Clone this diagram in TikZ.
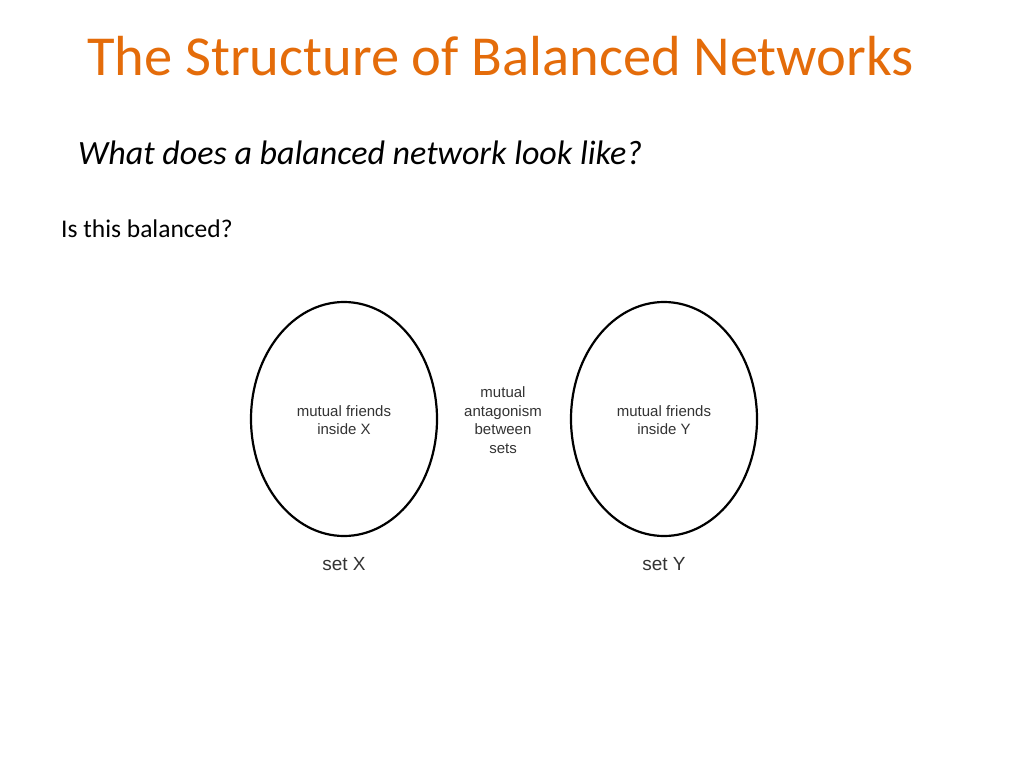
\documentclass[tikz,border=0pt]{standalone}
\usepackage{fontspec}
\usetikzlibrary{shapes.geometric}
\setmainfont{Carlito}
\newfontfamily\arialf{Liberation Sans}
\definecolor{titleor}{RGB}{228,108,10}
\begin{document}
\begin{tikzpicture}[x=1pt,y=-1pt,
  set/.style={draw=black,line width=2.2pt,ellipse,minimum width=186pt,minimum height=234pt,inner sep=0pt},
  lab/.style={font=\arialf\fontsize{15}{18.5}\selectfont,text=black!80,align=center},
  setlab/.style={font=\arialf\fontsize{19}{22}\selectfont,text=black!80}]
\useasboundingbox (0,0) rectangle (1024,768);
\fill[white] (0,0) rectangle (1024,768);
\node[anchor=west,text=titleor,font=\fontsize{56.5}{60}\selectfont,inner sep=0pt] (title) at (87,56) {The Structure of Balanced Networks};
\node[anchor=west,font=\itshape\fontsize{34}{38}\selectfont,inner sep=0pt] (sub) at (78,153) {What does a balanced network look like?};
\node[anchor=west,font=\fontsize{25.5}{28}\selectfont,inner sep=0pt] (q) at (61,229) {Is this balanced?};
\node[set] (X) at (344,419) {};
\node[set] (Y) at (664,419) {};
\node[lab] (tx) at (344,420) {mutual friends\\inside X};
\node[lab] (ty) at (664,420) {mutual friends\\inside Y};
\node[lab] (m) at (503,420) {mutual\\antagonism\\between\\sets};
\node[setlab] (sx) at (344,564) {set X};
\node[setlab] (sy) at (664,564) {set Y};
\end{tikzpicture}
\end{document}
